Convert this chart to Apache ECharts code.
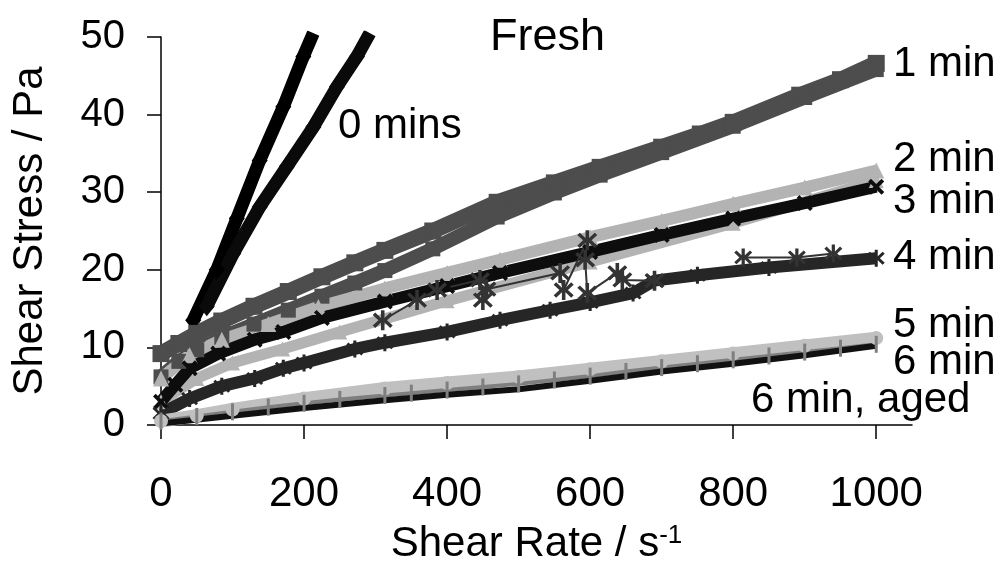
<!DOCTYPE html>
<html>
<head>
<meta charset="utf-8">
<script src="https://cdn.jsdelivr.net/npm/echarts@6/dist/echarts.min.js"></script>
<style>html,body{margin:0;padding:0;background:#fff}</style>
</head>
<body>
<div id="myChart" style="width:1004px;height:572px"></div>
<script>
// tick values
const xTicks = [0, 200, 400, 600, 800, 1000];
const yTicks = [0, 10, 20, 30, 40, 50];

// [shear rate, shear stress]
// 0 mins: two sweeps
const min0Up = [[45, 13.5], [78, 20], [106, 26.6], [138, 34.1], [171, 41], [199, 47.5], [213, 50.5]];
const min0Down = [[64, 15.3], [101, 22.1], [138, 28.1], [176, 33.3], [213, 38.4], [246, 43.6], [274, 47.5], [292, 50.5]];
// 1 min
const min1Up = [[0, 9.2], [25, 10.5], [50, 11.8], [85, 13.4], [130, 15.3], [178, 17.2], [225, 19.1], [271, 20.9], [313, 22.5], [380, 25], [470, 28.7], [550, 31.2], [614, 33.2], [700, 35.8], [754, 37.5], [800, 39], [893, 42.5], [950, 44.5], [1000, 46.6]];
const min1Down = [[0, 6.2], [25, 8.2], [50, 9.7], [85, 11.3], [130, 13], [178, 14.8], [225, 16.6], [271, 18.3], [313, 19.9], [380, 22.7], [470, 26.8], [550, 29.9], [614, 32.2], [700, 35.1], [800, 38.5], [900, 42.2], [1000, 45.8]];
// 2 min
const min2Up = [[0, 6], [40, 9], [85, 11], [150, 13], [220, 15.2], [313, 17.6], [400, 19.6], [474, 21.3], [600, 24.2], [700, 26.3], [800, 28.5], [900, 30.6], [1000, 32.8]];
const min2Down = [[0, 3], [50, 6], [100, 8], [170, 9.8], [250, 12], [400, 16], [600, 21], [800, 26], [1000, 31.5]];
// 3 min
const min3 = [[0, 3], [20, 5.2], [40, 7.3], [80, 9.2], [131, 11], [171, 12], [225, 13.8], [313, 15.9], [400, 17.9], [474, 19.6], [600, 22.3], [700, 24.5], [800, 26.6], [900, 28.6], [1000, 30.7]];
// 4 min
const min4 = [[0, 1.5], [40, 3.4], [85, 5], [131, 6], [171, 7.3], [200, 8], [271, 9.8], [313, 10.6], [400, 12], [474, 13.5], [544, 14.8], [600, 15.8], [660, 17], [690, 18.6], [750, 19.3], [850, 20.3], [1000, 21.5]];
const min4Jumps = [[310, 13.5], [358, 16.1], [386, 17.4], [446, 18.7], [450, 16.1], [455, 17.5], [558, 19.6], [563, 17.4], [596, 23.8], [593, 21.3], [596, 17], [638, 19.6], [645, 18.7], [690, 18.6]];
const min4Flat = [[814, 21.6], [889, 21.6], [940, 22.1]];
// 5 min
const min5 = [[0, 0.5], [50, 1.2], [100, 2], [200, 3.4], [313, 4.7], [400, 5.4], [500, 6.2], [600, 7.2], [700, 8.2], [800, 9.2], [900, 10.2], [1000, 11.2]];
// 6 min
const min6 = [[0, 0.5], [50, 1.1], [100, 1.7], [150, 2.3], [200, 2.8], [250, 3.3], [313, 3.8], [350, 4.1], [400, 4.5], [450, 4.9], [500, 5.3], [550, 5.8], [600, 6.3], [650, 6.9], [700, 7.4], [750, 7.9], [800, 8.4], [850, 8.9], [900, 9.4], [950, 9.9], [1000, 10.4]];
// 6 min, aged
const min6Aged = [[0, 0.2], [100, 1.2], [200, 2.2], [313, 3.2], [400, 3.9], [500, 4.6], [600, 5.7], [700, 6.9], [800, 7.9], [900, 9], [1000, 10.2]];

const FONT = '"Liberation Sans", Arial, sans-serif';
const xMark = 'path://M0,2L2,0L6,4L10,0L12,2L8,6L12,10L10,12L6,8L2,12L0,10L4,6Z';
const star = 'path://M5,0H7V4.6L10.2,1.4L11.6,2.8L8.4,6L11.6,9.2L10.2,10.6L7,7.4V12H5V7.4L1.8,10.6L0.4,9.2L3.6,6L0.4,2.8L1.8,1.4L5,4.6Z';

function curve(name, data, color, width, symbol, size) {
  return {
    name: name,
    type: 'line',
    data: data,
    symbol: symbol,
    symbolSize: size,
    showAllSymbol: true,
    itemStyle: { color: color },
    lineStyle: { color: color, width: width },
    emphasis: { disabled: true }
  };
}

function note(text, x, y, size) {
  return {
    type: 'text',
    style: {
      text: text, x: x, y: y,
      font: (size || 42) + 'px ' + FONT,
      fill: '#000',
      textAlign: 'left',
      textVerticalAlign: 'middle'
    }
  };
}

let myChart = echarts.init(document.getElementById('myChart'));
myChart.setOption({
  animation: false,
  backgroundColor: '#fff',
  grid: { left: 161, top: 37, right: 92, bottom: 147 },
  xAxis: {
    type: 'value', min: 0, max: 1050, interval: 200,
    splitLine: { show: false },
    axisLine: { lineStyle: { color: '#000', width: 1.5 } },
    axisTick: { length: 14, customValues: xTicks, lineStyle: { color: '#000', width: 1.5 } },
    axisLabel: { customValues: xTicks, formatter: v => String(v), fontSize: 42, fontFamily: FONT, color: '#000', margin: 48 },
    name: '{a|Shear Rate / s}{b|-1}',
    nameLocation: 'middle',
    nameGap: 98,
    nameTextStyle: {
      rich: {
        a: { fontSize: 42, fontFamily: FONT, color: '#000' },
        b: { fontSize: 26, fontFamily: FONT, color: '#000', verticalAlign: 'top' }
      }
    }
  },
  yAxis: {
    type: 'value', min: 0, max: 50, interval: 10,
    splitLine: { show: false },
    axisLine: { show: true, lineStyle: { color: '#000', width: 1.5 } },
    axisTick: { show: true, length: 14, lineStyle: { color: '#000', width: 1.5 } },
    axisLabel: { formatter: v => String(v), fontSize: 40, fontFamily: FONT, color: '#000', margin: 36, padding: [10, 0, 0, 0] },
    name: 'Shear Stress / Pa',
    nameLocation: 'middle',
    nameGap: 110,
    nameTextStyle: { fontSize: 42, fontFamily: FONT, color: '#000' }
  },
  series: [
    curve('0 mins up', min0Up, '#000', 13, 'diamond', [16, 20]),
    curve('0 mins down', min0Down, '#0a0a0a', 13, 'diamond', [16, 20]),
    curve('1 min up', min1Up, '#4d4d4d', 16, 'rect', 17),
    curve('1 min down', min1Down, '#4d4d4d', 14, 'rect', 15),
    curve('2 min down', min2Down, '#b3b3b3', 11, 'triangle', 15),
    curve('2 min up', min2Up, '#b3b3b3', 12, 'triangle', 16),
    curve('3 min', min3, '#0d0d0d', 12, xMark, 16),
    curve('4 min', min4, '#262626', 12, star, 17),
    curve('4 min jumps', min4Jumps, '#333', 2, star, 20),
    curve('4 min flat', min4Flat, '#333', 2, star, 18),
    curve('5 min', min5, '#c0c0c0', 13, 'circle', 14),
    curve('6 min', min6, '#7f7f7f', 4, 'rect', [3, 17]),
    curve('6 min, aged', min6Aged, '#111', 6, 'none', 0)
  ],
  graphic: [
    note('Fresh', 490, 38, 45),
    note('0 mins', 338, 126),
    note('1 min', 893, 64),
    note('2 min', 893, 159),
    note('3 min', 893, 201),
    note('4 min', 893, 257),
    note('5 min', 893, 325),
    note('6 min', 893, 362),
    note('6 min, aged', 751, 400)
  ]
});
</script>
</body>
</html>
